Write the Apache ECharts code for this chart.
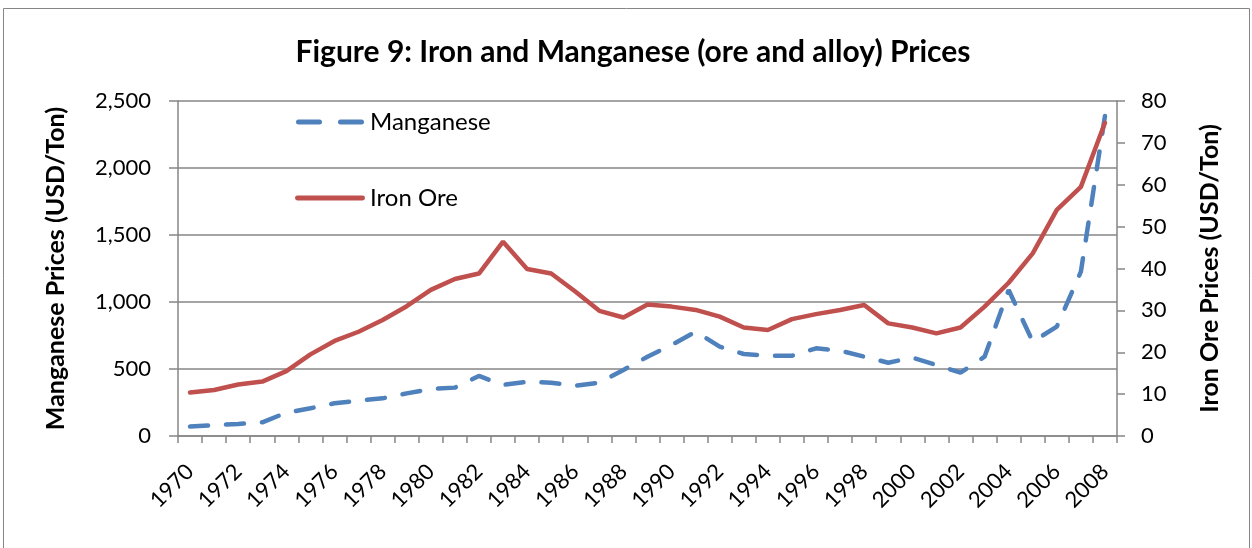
<!DOCTYPE html>
<html>
<head>
<meta charset="utf-8">
<script src="https://cdn.jsdelivr.net/npm/echarts@6/dist/echarts.min.js"></script>
<style>
html, body { margin: 0; padding: 0; background: #fff; }
#chart { width: 1252px; height: 548px; }
</style>
</head>
<body>
<div id="chart"></div>
<script>
let years = [];
for (let y = 1970; y <= 2008; y++) years.push(String(y));

let manganese = [70, 80, 90, 102, 174, 207, 244, 264, 281, 318,
    351, 361, 448, 381, 405, 398, 375, 398, 493, 592,
    679, 778, 667, 612, 599, 599, 654, 637, 592, 547,
    585, 530, 473, 592, 1090, 704, 816, 1226, 2388];
let ironOre = [10.4, 11.0, 12.3, 13.0, 15.5, 19.5, 22.7, 24.9, 27.7, 31.0,
    34.9, 37.5, 38.8, 46.4, 39.9, 38.8, 34.5, 29.9, 28.3, 31.4,
    30.9, 30.1, 28.5, 25.9, 25.3, 27.9, 29.1, 30.1, 31.3, 26.9,
    25.9, 24.5, 25.9, 30.9, 36.6, 43.6, 54.0, 59.5, 74.8];

let font = 'Lato';
let grey = '#868686';
let blue = '#4F81BD';
let red = '#C0504D';

// legend icons drawn as paths (dashed / solid thick line)
let dashIcon = 'path://M2.5,0H23.5A2.5,2.5,0,0,1,23.5,5H2.5A2.5,2.5,0,0,1,2.5,0Z' +
    'M44.5,0H65.5A2.5,2.5,0,0,1,65.5,5H44.5A2.5,2.5,0,0,1,44.5,0Z';
let solidIcon = 'path://M2.5,0H69.5A2.5,2.5,0,0,1,69.5,5H2.5A2.5,2.5,0,0,1,2.5,0Z';

let dom = document.getElementById('chart');
let myChart = echarts.init(dom);

let option = {
    backgroundColor: '#fff',
    animation: false,
    title: {
        text: 'Figure 9: Iron and Manganese (ore and alloy) Prices',
        left: 628,
        textAlign: 'center',
        top: 32,
        textStyle: { fontFamily: font, fontSize: 30, fontWeight: 'bold', color: '#000' }
    },
    graphic: [{
        type: 'rect',
        shape: { x: 3.5, y: 8.5, width: 1246, height: 560 },
        style: { fill: null, stroke: grey, lineWidth: 1 },
        silent: true
    }],
    legend: {
        orient: 'vertical',
        left: 290,
        top: 105,
        itemGap: 52,
        itemWidth: 70,
        itemHeight: 5,
        data: [
            { name: 'Manganese', icon: dashIcon, itemStyle: { color: blue } },
            { name: 'Iron Ore', icon: solidIcon, itemStyle: { color: red } }
        ],
        textStyle: { fontFamily: font, fontSize: 24, color: '#000' }
    },
    grid: { left: 178, right: 135, top: 101, bottom: 112 },
    xAxis: {
        type: 'category',
        data: years,
        boundaryGap: true,
        axisLine: { lineStyle: { color: grey, width: 1.5 } },
        axisTick: { show: true, interval: 0, length: 7, lineStyle: { color: grey, width: 1.5 } },
        axisLabel: { interval: 1, rotate: 45, fontFamily: font, fontSize: 22, color: '#000', margin: 32 }
    },
    yAxis: [{
        type: 'value',
        min: 0, max: 2500, interval: 500,
        name: 'Manganese Prices (USD/Ton)',
        nameLocation: 'middle',
        nameRotate: 90,
        nameGap: 110,
        nameTextStyle: { fontFamily: font, fontSize: 25, fontWeight: 'bold', color: '#000' },
        axisLine: { show: true, lineStyle: { color: grey, width: 1.5 } },
        axisTick: { show: true, length: 9, lineStyle: { color: grey, width: 1.5 } },
        axisLabel: {
            fontFamily: font, fontSize: 22, color: '#000', margin: 27,
            formatter: function (v) { return v.toLocaleString('en-US'); }
        },
        splitLine: { lineStyle: { color: grey, width: 1.5 } }
    }, {
        type: 'value',
        min: 0, max: 80, interval: 10,
        position: 'right',
        name: 'Iron Ore Prices (USD/Ton)',
        nameLocation: 'middle',
        nameRotate: 90,
        nameGap: 80,
        nameTextStyle: { fontFamily: font, fontSize: 25, fontWeight: 'bold', color: '#000' },
        axisLine: { show: true, lineStyle: { color: grey, width: 1.5 } },
        axisTick: { show: true, length: 8, lineStyle: { color: grey, width: 1.5 } },
        axisLabel: { fontFamily: font, fontSize: 22, color: '#000', margin: 24 },
        splitLine: { show: false }
    }],
    series: [{
        name: 'Manganese',
        type: 'line',
        yAxisIndex: 0,
        data: manganese,
        showSymbol: false,
        symbol: 'none',
        color: blue,
        lineStyle: { color: blue, width: 4.5, type: [18, 18], cap: 'round' }
    }, {
        name: 'Iron Ore',
        type: 'line',
        yAxisIndex: 1,
        data: ironOre,
        showSymbol: false,
        symbol: 'none',
        color: red,
        lineStyle: { color: red, width: 4.5, cap: 'round' }
    }]
};

myChart.setOption(option, true);
window.addEventListener('resize', function () {
    myChart.resize();
});
</script>
</body>
</html>
